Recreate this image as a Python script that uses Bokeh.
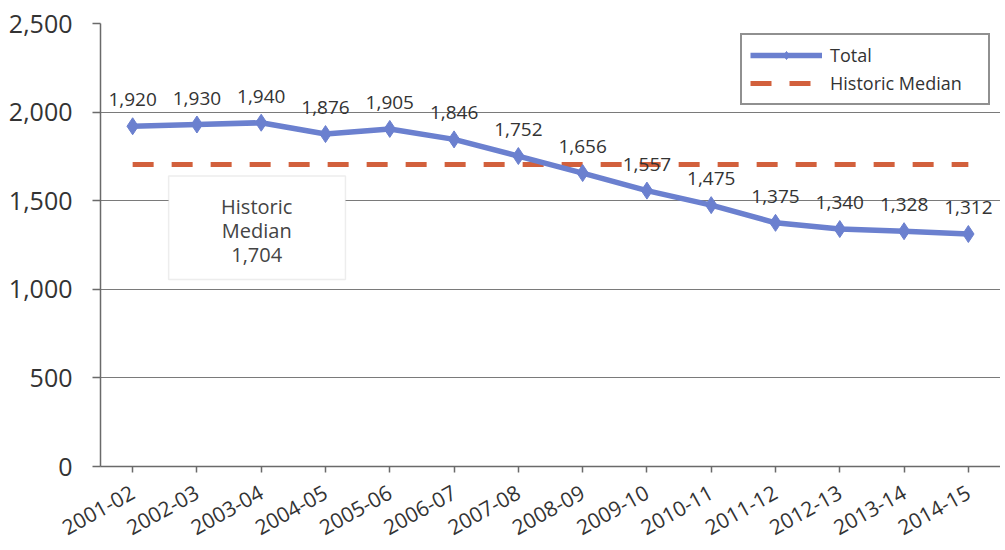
import math
from bokeh.plotting import figure
from bokeh.models import (ColumnDataSource, FixedTicker, Legend, LegendItem,
                          BoxAnnotation, Label, NumeralTickFormatter)
from bokeh.core.properties import value
from bokeh.embed import file_html
from bokeh.resources import INLINE

years = ["2001-02", "2002-03", "2003-04", "2004-05", "2005-06", "2006-07", "2007-08",
         "2008-09", "2009-10", "2010-11", "2011-12", "2012-13", "2013-14", "2014-15"]
totals = [1920, 1930, 1940, 1876, 1905, 1846, 1752, 1656, 1557, 1475, 1375, 1340, 1328, 1312]
median_value = 1704
y_ticks = [0, 500, 1000, 1500, 2000, 2500]

FONT = "Open Sans"
TXT = "#333333"

idx = list(range(len(years)))
src = ColumnDataSource(dict(x=idx, y=totals,
                            lbl=[f"{v:,}" for v in totals],
                            med=[median_value] * len(years)))

p = figure(width=1000, height=545, output_backend="svg", toolbar_location=None,
           x_range=(-0.5, len(years) - 0.5), y_range=(0, 2500),
           min_border_left=100, min_border_right=0, min_border_top=23, min_border_bottom=77)
p.outline_line_color = None
p.background_fill_color = "white"

# median dashed line
med = p.line("x", "med", source=src, line_color="#d2603c", line_width=5, line_dash="21 18")
# total line
tl = p.line("x", "y", source=src, line_color="#6b80cf", line_width=5.5)
tm = p.scatter("x", "y", source=src, marker="diamond", size=17, fill_color="#6b80cf",
               line_color="#6b80cf")

p.text("x", "y", text="lbl", source=src, x_offset=0, y_offset=-20,
       text_align="center", text_baseline="bottom", text_font=value(FONT),
       text_font_size="19px", text_color=TXT)

# annotation box
p.add_layout(BoxAnnotation(left=0.56, right=3.31, bottom=1056, top=1640,
                           fill_color="white", fill_alpha=1.0,
                           line_color="#c4c4c4", line_width=1.5, level="overlay"))
for t, yy in [("Historic", 1466), ("Median", 1331), ("1,704", 1196)]:
    p.add_layout(Label(x=1.93, y=yy, text=t, text_align="center", text_baseline="middle",
                       text_font=FONT, text_font_size="20px", text_color="#444444",
                       level="overlay"))

# axes
p.yaxis.ticker = FixedTicker(ticks=y_ticks)
p.yaxis.formatter = NumeralTickFormatter(format="0,0")
p.xaxis.ticker = FixedTicker(ticks=idx)
p.xaxis.major_label_overrides = {i: y for i, y in enumerate(years)}
p.xaxis.major_label_orientation = math.radians(29)
p.xgrid.grid_line_color = None
p.ygrid.grid_line_color = "#7a7a7a"
p.ygrid.grid_line_width = 1.2
p.ygrid.ticker = FixedTicker(ticks=y_ticks)

for ax in (p.xaxis[0], p.yaxis[0]):
    ax.axis_line_color = "#6a6a6a"
    ax.axis_line_width = 1.5
    ax.major_tick_line_color = "#6a6a6a"
    ax.major_tick_line_width = 1.5
    ax.minor_tick_line_color = None
    ax.major_label_text_font = FONT
    ax.major_label_text_color = TXT
p.yaxis.major_tick_out = 8
p.yaxis.major_tick_in = 0
p.yaxis.major_label_text_font_size = "25px"
p.yaxis.major_label_standoff = 20
p.xaxis.major_tick_out = 6
p.xaxis.major_tick_in = 0
p.xaxis.major_label_text_font_size = "21px"
p.xaxis.major_label_standoff = 18

legend = Legend(items=[LegendItem(label="Total", renderers=[tl, tm]),
                       LegendItem(label="Historic Median", renderers=[med])],
                location="top_right", margin=10, padding=8, spacing=4,
                glyph_width=72, glyph_height=20, label_standoff=8, label_width=150,
                label_text_font=FONT, label_text_font_size="18px", label_text_color=TXT,
                border_line_color="#222222", border_line_width=2,
                background_fill_color="white", background_fill_alpha=1.0)
p.add_layout(legend)

open("out.html", "w").write(file_html(p, INLINE))
